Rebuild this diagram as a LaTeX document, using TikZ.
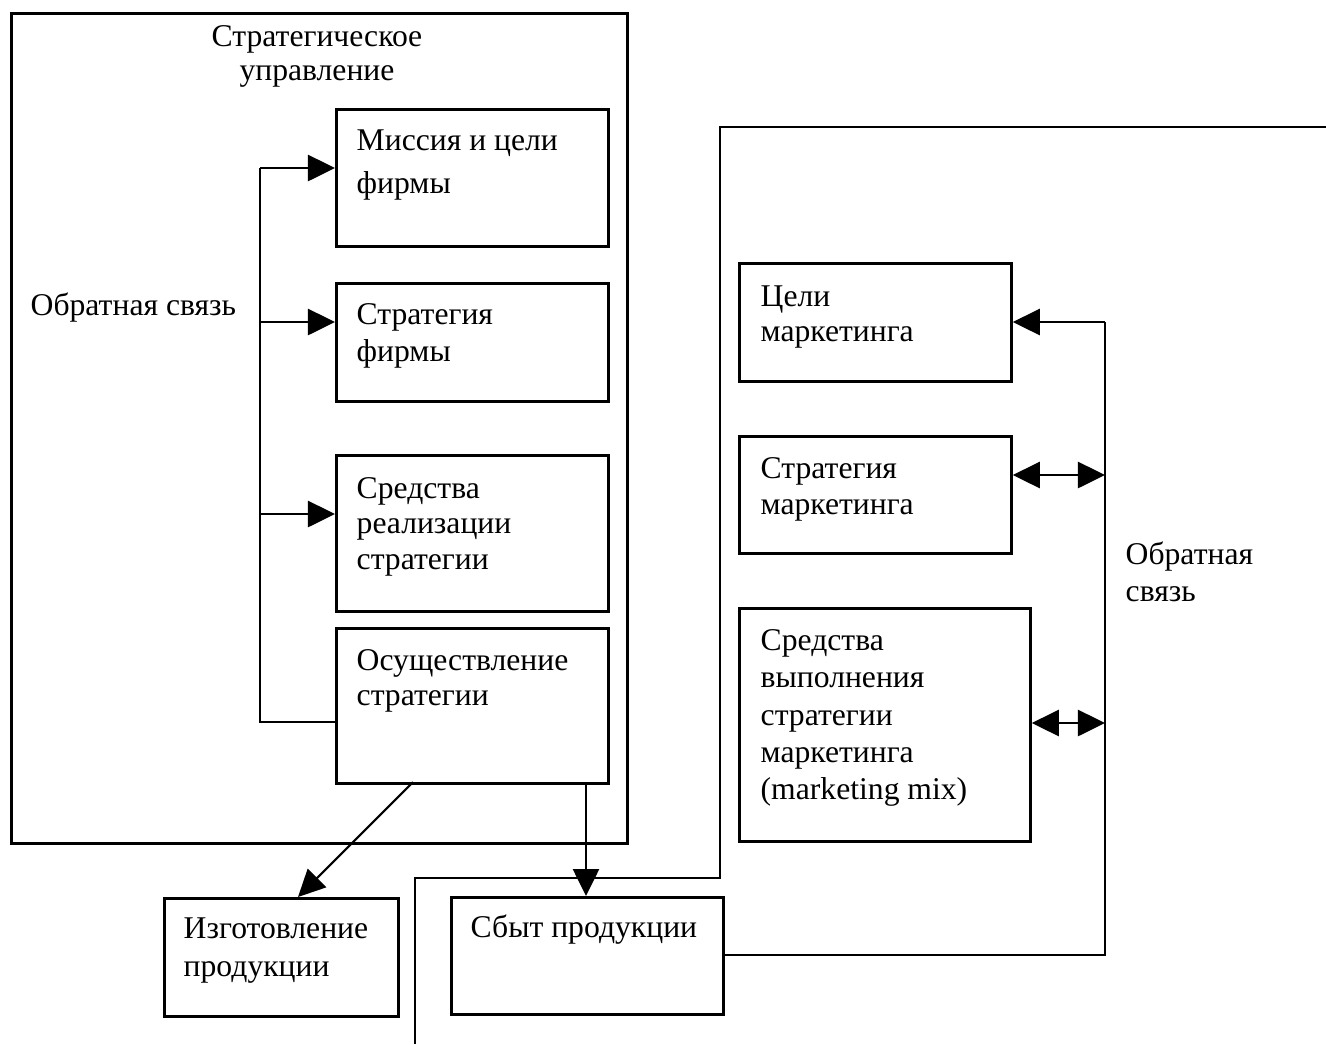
\documentclass[tikz,border=0pt]{standalone}
\usepackage{fontspec}
\setmainfont{Liberation Serif}
\usetikzlibrary{arrows.meta}
\begin{document}
\begin{tikzpicture}[x=0.01cm,y=-0.01cm,
  box/.style={draw, line width=0.75pt, anchor=north west, inner sep=0pt},
  txt/.style={anchor=base west, inner sep=0pt, font=\fontsize{9pt}{10pt}\selectfont},
  ctxt/.style={anchor=base, inner sep=0pt, font=\fontsize{9pt}{10pt}\selectfont},
  link/.style={line width=0.75pt},
  thin/.style={line width=0.55pt},
  arr/.style={line width=0.75pt, -{Triangle[length=0.27cm,width=0.26cm]}},
  darr/.style={line width=0.75pt, {Triangle[length=0.27cm,width=0.26cm]}-{Triangle[length=0.27cm,width=0.26cm]}}]
\useasboundingbox (0,0) rectangle (1326,1044);
% boxes
\node[box, minimum width=6.16cm, minimum height=8.30cm] (outer) at (10,12) {};
\node[box, minimum width=2.72cm, minimum height=1.37cm] (b1) at (335,108) {};
\node[box, minimum width=2.72cm, minimum height=1.18cm] (b2) at (335,282) {};
\node[box, minimum width=2.72cm, minimum height=1.56cm] (b3) at (335,454) {};
\node[box, minimum width=2.72cm, minimum height=1.55cm] (b4) at (335,627) {};
\node[box, minimum width=2.34cm, minimum height=1.18cm] (izg) at (163,897) {};
\node[box, minimum width=2.72cm, minimum height=1.17cm] (sbyt) at (450,896) {};
\node[box, minimum width=2.72cm, minimum height=1.18cm] (m1) at (738,262) {};
\node[box, minimum width=2.72cm, minimum height=1.17cm] (m2) at (738,435) {};
\node[box, minimum width=2.91cm, minimum height=2.33cm] (m3) at (738,607) {};
% texts
\node[ctxt] (tt1) at (317,46) {Стратегическое};
\node[ctxt] (tt2) at (317,80) {управление};
\node[txt] (fbl) at (30,315) {Обратная связь};
\node[txt] (b1a) at (356,150) {Миссия и цели};
\node[txt] (b1b) at (356,193) {фирмы};
\node[txt] (b2a) at (356,324) {Стратегия};
\node[txt] (b2b) at (356,361) {фирмы};
\node[txt] (b3a) at (356,498) {Средства};
\node[txt] (b3b) at (356,533) {реализации};
\node[txt] (b3c) at (356,569) {стратегии};
\node[txt] (b4a) at (356,670) {Осуществление};
\node[txt] (b4b) at (356,705) {стратегии};
\node[txt] (iza) at (183,938) {Изготовление};
\node[txt] (izb) at (183,976) {продукции};
\node[txt] (sba) at (470,937) {Сбыт продукции};
\node[txt] (m1a) at (760,306) {Цели};
\node[txt] (m1b) at (760,341) {маркетинга};
\node[txt] (m2a) at (760,478) {Стратегия};
\node[txt] (m2b) at (760,514) {маркетинга};
\node[txt] (m3a) at (760,650) {Средства};
\node[txt] (m3b) at (760,687) {выполнения};
\node[txt] (m3c) at (760,725) {стратегии};
\node[txt] (m3d) at (760,762) {маркетинга};
\node[txt] (m3e) at (760,799) {(marketing mix)};
\node[txt] (fbr1) at (1125,564) {Обратная};
\node[txt] (fbr2) at (1125,601) {связь};
% left feedback
\coordinate (f1) at (260,168);
\coordinate (f2) at (260,322);
\coordinate (f3) at (260,514);
\coordinate (f4) at (260,722);
\draw[link] (b4.west |- f4) -- (f4) -- (f1);
\draw[arr] (f1) -- (b1.west |- f1);
\draw[arr] (f2) -- (b2.west |- f2);
\draw[arr] (f3) -- (b3.west |- f3);
% outputs
\coordinate (d1) at (413,782);
\coordinate (d2) at (298,897);
\draw[line width=0.6pt, -{Triangle[length=0.27cm,width=0.26cm]}] (d1) -- (d2);
\coordinate (s1) at (586,782);
\draw[arr] (s1) -- (s1 |- sbyt.north);
% marketing frame
\coordinate (mf0) at (415,1044);
\coordinate (mf1) at (415,878);
\coordinate (mf2) at (720,878);
\coordinate (mf3) at (720,127);
\coordinate (mf4) at (1326,127);
\draw[thin] (mf0) -- (mf1) -- (mf2) -- (mf3) -- (mf4);
% right feedback
\coordinate (r0) at (1105,955);
\coordinate (r1) at (1105,322);
\coordinate (r2) at (1105,475);
\coordinate (r3) at (1105,723);
\draw[thin] (sbyt.east |- r0) -- (r0) -- (r1);
\draw[arr] (r1) -- (m1.east |- r1);
\draw[darr] (m2.east |- r2) -- (r2);
\draw[darr] (m3.east |- r3) -- (r3);
\end{tikzpicture}
\end{document}
